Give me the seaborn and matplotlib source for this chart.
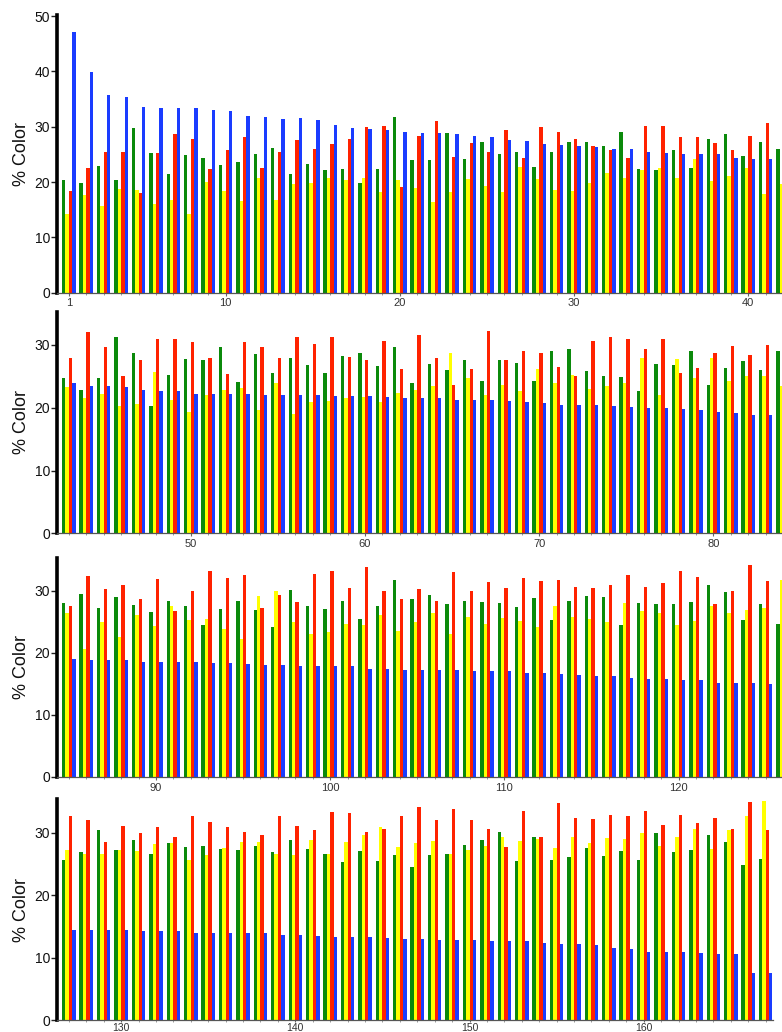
import matplotlib
matplotlib.use('Agg')
import matplotlib.pyplot as plt
from matplotlib.ticker import FixedLocator
import seaborn as sns
import pandas as pd

groups = list(range(1, 168))

green = [20.3, 19.9, 22.9, 20.3, 29.8, 25.3, 21.5, 24.9, 24.4, 23.1, 23.7, 25.1, 26.1, 21.4, 23.2, 22.1, 22.3, 19.8, 22.4, 31.7,
         24.0, 24.0, 28.8, 24.1, 27.2, 25.0, 25.4, 22.8, 25.4, 27.3, 27.3, 26.5, 29.0, 22.3, 22.1, 25.7, 22.6, 27.8, 28.7, 24.7,
         27.2, 26.0,
         24.7, 22.8, 24.7, 31.3, 28.8, 20.3, 25.2, 27.7, 27.6, 29.6, 24.1, 28.5, 25.6, 27.9, 26.8, 25.6, 28.3, 28.7, 26.6, 29.7,
         24.0, 27.0, 26.0, 27.6, 24.3, 27.6, 27.1, 24.2, 29.0, 29.3, 25.8, 25.1, 24.9, 22.6, 27.0, 26.8, 29.0, 23.7, 26.4, 27.4,
         26.0, 29.0,
         28.1, 29.4, 27.2, 29.0, 27.7, 26.5, 28.3, 27.5, 24.4, 27.1, 28.4, 26.9, 24.2, 30.1, 27.6, 27.0, 28.3, 25.4, 27.5, 31.7,
         28.7, 29.3, 27.9, 28.4, 28.2, 28.1, 27.4, 28.8, 25.3, 28.4, 29.1, 29.0, 24.5, 28.1, 27.8, 27.8, 28.2, 30.9, 29.8, 25.3,
         27.8, 24.7,
         25.6, 26.9, 30.5, 27.2, 28.8, 26.7, 28.4, 27.7, 27.9, 27.5, 27.3, 27.9, 26.9, 28.8, 27.4, 26.7, 25.3, 27.1, 25.5, 26.4,
         24.5, 26.4, 26.6, 28.0, 28.8, 30.2, 25.5, 29.3, 25.7, 26.2, 27.6, 26.3, 27.1, 25.6, 30.0, 27.0, 27.2, 29.7, 28.6, 24.9,
         25.8]

yellow = [14.3, 17.7, 15.7, 18.8, 18.6, 16.1, 16.7, 14.2, 20.0, 18.4, 16.5, 20.8, 16.8, 19.7, 19.8, 20.8, 20.3, 20.8, 18.2, 20.3,
          19.0, 16.4, 18.2, 20.5, 19.3, 18.2, 22.8, 20.5, 18.6, 18.4, 19.8, 21.7, 20.8, 22.1, 22.6, 20.8, 24.1, 20.2, 21.1, 22.6,
          17.9, 19.6,
          23.3, 21.5, 22.2, 20.3, 20.6, 25.7, 21.2, 19.3, 22.1, 22.8, 23.1, 19.6, 24.0, 19.0, 20.9, 21.1, 21.5, 21.7, 20.9, 22.4,
          22.8, 23.5, 28.8, 24.7, 22.1, 23.6, 22.6, 26.2, 24.0, 25.2, 23.0, 23.4, 23.9, 28.0, 22.1, 27.7, 24.7, 27.9, 24.3, 25.1,
          25.1, 23.5,
          26.4, 20.6, 24.9, 22.5, 26.1, 24.3, 27.6, 25.3, 25.4, 23.9, 22.2, 29.1, 29.9, 25.0, 23.1, 23.3, 24.6, 24.5, 26.1, 23.5,
          25.0, 26.4, 23.0, 25.7, 24.6, 25.6, 25.1, 24.2, 27.5, 25.8, 25.4, 25.0, 28.1, 26.7, 26.4, 24.5, 25.2, 27.5, 26.4, 26.9,
          27.2, 31.7,
          27.2, 26.6, 26.6, 27.3, 27.1, 28.2, 28.4, 25.6, 26.5, 27.6, 28.6, 28.6, 26.6, 26.5, 28.8, 26.7, 28.5, 29.6, 30.9, 27.7,
          28.4, 28.7, 26.6, 27.2, 27.9, 29.4, 28.7, 29.0, 27.6, 29.3, 28.4, 29.2, 29.0, 30.0, 27.9, 29.3, 30.7, 27.4, 30.5, 32.8,
          35.1]

red = [18.4, 22.5, 25.5, 25.5, 18.0, 25.2, 28.6, 27.7, 22.3, 25.7, 28.1, 22.6, 25.4, 27.6, 25.9, 26.9, 27.7, 29.9, 30.1, 19.1,
       28.4, 31.1, 24.6, 27.0, 25.5, 29.4, 24.4, 30.0, 29.1, 27.7, 26.6, 25.8, 24.3, 30.1, 30.1, 28.2, 28.2, 27.0, 25.8, 28.4,
       30.6, 30.5,
       28.0, 32.0, 29.6, 25.1, 27.6, 31.0, 30.9, 30.5, 27.9, 25.3, 30.5, 29.6, 28.0, 31.2, 30.2, 31.3, 28.1, 27.6, 30.6, 26.1,
       31.6, 28.0, 23.7, 26.1, 32.2, 27.6, 29.1, 28.7, 26.5, 25.0, 30.6, 31.2, 31.0, 29.3, 30.9, 25.5, 26.3, 28.8, 29.9, 28.4,
       30.0, 29.5,
       27.6, 32.3, 30.2, 30.9, 28.6, 31.9, 26.8, 29.9, 33.1, 32.0, 32.5, 27.2, 29.3, 28.2, 32.7, 33.1, 30.5, 33.8, 30.0, 28.7,
       30.2, 28.4, 33.0, 30.0, 31.4, 30.5, 32.0, 31.5, 31.8, 30.6, 30.4, 31.0, 32.6, 30.6, 31.3, 33.2, 32.2, 27.8, 30.0, 34.1,
       31.5, 30.0,
       32.8, 32.0, 28.6, 31.1, 30.0, 31.0, 29.3, 32.8, 31.7, 31.0, 30.2, 29.7, 32.8, 31.1, 30.5, 33.4, 33.2, 30.2, 30.6, 32.8,
       34.2, 32.1, 33.9, 32.1, 30.7, 27.8, 33.5, 29.4, 34.8, 32.4, 32.3, 32.9, 32.7, 33.6, 31.2, 32.9, 31.6, 32.4, 30.6, 34.9,
       30.4]

blue = [47.1, 39.9, 35.8, 35.3, 33.5, 33.3, 33.3, 33.3, 33.0, 32.8, 31.9, 31.7, 31.4, 31.5, 31.3, 30.3, 29.8, 29.6, 29.4, 29.1,
        28.8, 28.8, 28.6, 28.4, 28.1, 27.6, 27.5, 26.9, 26.7, 26.6, 26.4, 26.0, 26.0, 25.5, 25.3, 25.1, 25.1, 25.0, 24.4, 24.2,
        24.2, 24.0,
        23.9, 23.5, 23.5, 23.3, 22.8, 22.7, 22.6, 22.2, 22.2, 22.2, 22.2, 22.1, 22.1, 22.0, 22.0, 21.8, 21.9, 21.9, 21.7, 21.6,
        21.6, 21.5, 21.3, 21.3, 21.2, 21.1, 20.9, 20.7, 20.5, 20.4, 20.4, 20.2, 20.1, 19.9, 19.9, 19.8, 19.7, 19.3, 19.1, 18.9,
        18.9, 18.8,
        19.0, 18.9, 18.9, 18.8, 18.6, 18.5, 18.5, 18.5, 18.3, 18.3, 18.2, 18.1, 18.1, 17.9, 17.8, 17.8, 17.8, 17.4, 17.4, 17.2,
        17.2, 17.2, 17.2, 17.1, 17.0, 17.0, 16.7, 16.7, 16.6, 16.4, 16.3, 16.3, 16.0, 15.8, 15.8, 15.7, 15.6, 15.1, 15.1, 15.1,
        14.9, 14.8,
        14.5, 14.5, 14.5, 14.4, 14.3, 14.2, 14.2, 14.0, 14.0, 14.0, 13.9, 13.9, 13.7, 13.6, 13.5, 13.3, 13.3, 13.3, 13.2, 13.0,
        13.0, 12.9, 12.9, 12.8, 12.7, 12.7, 12.6, 12.4, 12.2, 12.2, 12.0, 11.6, 11.4, 10.9, 10.9, 10.9, 10.7, 10.6, 10.6, 7.5,
        7.5]

series_names = ['green', 'yellow', 'red', 'blue']
palette = {'green': '#0b8a0b', 'yellow': '#ffff00', 'red': '#ff2200', 'blue': '#1a3cff'}

panel_ranges = [(1, 42), (43, 84), (85, 126), (127, 167)]
panel_xlabels = [[1, 10, 20, 30, 40], [50, 60, 70, 80], [90, 100, 110, 120], [130, 140, 150, 160]]
panel_ytop = [50.2, 35.3, 35.3, 35.4]
panel_yticks = [[0, 10, 20, 30, 40, 50], [0, 10, 20, 30], [0, 10, 20, 30], [0, 10, 20, 30]]

rows = []
for name, vals in zip(series_names, [green, yellow, red, blue]):
    for g, v in zip(groups, vals):
        rows.append({'group': str(g), 'num': g, 'series': name, 'value': v})
df = pd.DataFrame(rows)

sns.set_theme(style='white')
plt.rcParams['font.family'] = ['Liberation Sans', 'DejaVu Sans']

W, H = 782, 1032
fig = plt.figure(figsize=(W / 100, H / 100), dpi=100)

# pixel rectangles: (left, top, right, bottom)
rects = [(57, 15, 782, 292.6), (57, 311.7, 782, 533.3), (57, 557.8, 782, 777), (57, 799.3, 773, 1020)]
step = 17.42
x0 = -0.68

for i, ((start, end), labs, ytop, yt, (l, t, r, b)) in enumerate(
        zip(panel_ranges, panel_xlabels, panel_ytop, panel_yticks, rects)):
    ax = fig.add_axes([l / W, 1 - b / H, (r - l) / W, (b - t) / H])
    sub = df[(df['num'] >= start) & (df['num'] <= end)]
    order = [str(g) for g in range(start, end + 1)]
    sns.barplot(data=sub, x='group', y='value', hue='series', order=order, hue_order=series_names,
                palette=palette, width=0.78, saturation=1, linewidth=0, legend=False, ax=ax)
    ax.set_xlim(x0, x0 + (r - l) / step)
    ax.set_ylim(0, ytop)
    ax.set_xticks([v - start for v in labs])
    ax.set_xticklabels([str(v) for v in labs], fontsize=7.5 if i == 3 else 8, color='#333333')
    ax.xaxis.set_minor_locator(FixedLocator(list(range(0, end - start + 1))))
    ax.set_yticks(yt)
    ax.set_yticklabels([str(v) for v in yt], fontsize=10, color='#111111')
    ax.tick_params(axis='y', which='major', direction='out', length=4, width=1, color='#222222', pad=1, left=True)
    ax.tick_params(axis='x', which='major', direction='out', length=2 if i < 3 else 1.5, width=0.8,
                   color='#666666', pad=2 if i < 3 else 0.5, bottom=True)
    ax.tick_params(axis='x', which='minor', direction='out', length=1.5, width=0.6, color='#888888', bottom=True)
    ax.set_xlabel('')
    ax.set_ylabel('% Color', fontsize=13, color='#111111')
    ax.yaxis.set_label_coords(-(57 - 30) / (r - l), 0.5)
    for s in ['top', 'right']:
        ax.spines[s].set_visible(False)
    ax.spines['left'].set_linewidth(2.6)
    ax.spines['left'].set_color('#000000')
    ax.spines['bottom'].set_linewidth(0.9)
    ax.spines['bottom'].set_color('#555555')
    ax.set_facecolor('white')

fig.savefig('out.png', dpi=100, facecolor='white')
